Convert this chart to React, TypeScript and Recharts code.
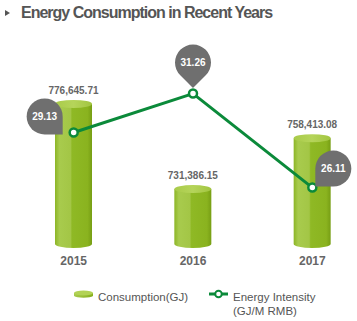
import { ComposedChart, Bar, Line, XAxis, YAxis, LabelList } from 'recharts'

const years = ['2015', '2016', '2017']
const consumption = [776645.71, 731386.15, 758413.08]
const intensity = [29.13, 31.26, 26.11]

const data = years.map((year, i) => ({
  year,
  consumption: consumption[i],
  intensity: intensity[i],
}))

const GREEN = '#0b8a3a'
const TEXT = '#666'
const FONT = '"Liberation Sans", Arial, sans-serif'

// balloon centre relative to its point, and the direction its tail points
const bubbleOffsets = [
  { dx: -29, dy: -16, angle: 45 },
  { dx: 0, dy: -31, angle: 90 },
  { dx: 21, dy: -19, angle: 135 },
]

function Cylinder(props: any) {
  const { x, y, width, height } = props
  if (!height) return null
  const rx = width / 2
  const ry = 4
  const bottom = y + height - ry
  return (
    <g>
      <path
        d={`M${x},${y} L${x},${bottom} A${rx},${ry} 0 0 0 ${x + width},${bottom} L${x + width},${y} Z`}
        fill="url(#cylBody)"
      />
      <ellipse cx={x + rx} cy={y} rx={rx} ry={ry} fill="url(#cylTop)" />
    </g>
  )
}

function Dot(props: any) {
  const { cx, cy } = props
  return <circle cx={cx} cy={cy} r={4} fill="#fff" stroke={GREEN} strokeWidth={2.5} />
}

function Bubble(props: any) {
  const px = props.x ?? props.viewBox?.x
  const py = props.y ?? props.viewBox?.y
  let i = props.index
  if (i == null) i = intensity.indexOf(Number(props.value))
  const o = bubbleOffsets[i]
  if (!o || px == null) return null
  const r = 18
  const cx = px + o.dx
  const cy = py + o.dy
  const a = (o.angle * Math.PI) / 180
  const q = Math.PI / 4
  const tip = [cx + r * Math.SQRT2 * Math.cos(a), cy + r * Math.SQRT2 * Math.sin(a)]
  const b1 = [cx + r * Math.cos(a - q), cy + r * Math.sin(a - q)]
  const b2 = [cx + r * Math.cos(a + q), cy + r * Math.sin(a + q)]
  return (
    <g>
      <path
        d={`M${b2[0]},${b2[1]} L${tip[0]},${tip[1]} L${b1[0]},${b1[1]} A${r},${r} 0 1 0 ${b2[0]},${b2[1]} Z`}
        fill="#6f6f6f"
      />
      <text
        x={cx}
        y={cy}
        textAnchor="middle"
        dominantBaseline="central"
        fill="#fff"
        fontSize={10}
        fontWeight="bold"
        fontFamily={FONT}
      >
        {props.value}
      </text>
    </g>
  )
}

export default function App() {
  return (
    <div
      style={{
        position: 'absolute',
        left: 0,
        top: 0,
        width: 357,
        height: 321,
        overflow: 'hidden',
        background: '#fff',
        fontFamily: FONT,
      }}
    >
      <svg width={12} height={12} style={{ position: 'absolute', left: 3, top: 7 }}>
        <polygon points="2,3 7,6 2,9" fill="#555" />
      </svg>
      <div
        style={{
          position: 'absolute',
          left: 21,
          top: 5,
          fontSize: 16,
          lineHeight: '16px',
          fontWeight: 'bold',
          letterSpacing: -1,
          color: '#555',
          whiteSpace: 'nowrap',
        }}
      >
        Energy Consumption in Recent Years
      </div>

      <ComposedChart
        width={372}
        height={321}
        data={data}
        margin={{ top: 60, right: 0, left: 14, bottom: 43 }}
      >
        <defs>
          <linearGradient id="cylBody" x1="0" y1="0" x2="1" y2="0">
            <stop offset="0%" stopColor="#8cb526" />
            <stop offset="12%" stopColor="#a8cb4d" />
            <stop offset="42%" stopColor="#a3c646" />
            <stop offset="46%" stopColor="#8fb925" />
            <stop offset="88%" stopColor="#8ab31f" />
            <stop offset="100%" stopColor="#779e14" />
          </linearGradient>
          <linearGradient id="cylTop" x1="0" y1="0" x2="1" y2="0">
            <stop offset="0%" stopColor="#a9cb4a" />
            <stop offset="50%" stopColor="#b5d45a" />
            <stop offset="100%" stopColor="#a2c540" />
          </linearGradient>
        </defs>
        <XAxis
          dataKey="year"
          axisLine={false}
          tickLine={false}
          height={30}
          tick={{ fill: TEXT, fontSize: 12, fontWeight: 'bold', fontFamily: FONT }}
        />
        <YAxis yAxisId="left" hide domain={[700000, 800000]} />
        <YAxis yAxisId="right" orientation="right" hide domain={[22.8, 33.1]} />
        <Bar
          yAxisId="left"
          dataKey="consumption"
          barSize={37}
          shape={<Cylinder />}
          isAnimationActive={false}
        >
          <LabelList
            dataKey="consumption"
            position="top"
            offset={10}
            fill={TEXT}
            fontSize={10}
            fontWeight="bold"
            fontFamily={FONT}
            formatter={(v: any) =>
              Number(v).toLocaleString('en-US', { minimumFractionDigits: 2, maximumFractionDigits: 2 })
            }
          />
        </Bar>
        <Line
          yAxisId="right"
          dataKey="intensity"
          stroke={GREEN}
          strokeWidth={3}
          dot={<Dot />}
          activeDot={false}
          isAnimationActive={false}
        >
          <LabelList dataKey="intensity" content={<Bubble />} />
        </Line>
      </ComposedChart>

      <svg width={22} height={10} style={{ position: 'absolute', left: 73, top: 290 }}>
        <path d="M1,3 L1,6 A10,2.5 0 0 0 20,6 L20,3 Z" fill="url(#legendBody)" />
        <defs>
          <linearGradient id="legendBody" x1="0" y1="0" x2="1" y2="0">
            <stop offset="0%" stopColor="#a8cb4d" />
            <stop offset="100%" stopColor="#86af1c" />
          </linearGradient>
        </defs>
        <ellipse cx={10.5} cy={3} rx={9.5} ry={2.5} fill="#b2d255" />
      </svg>
      <div style={{ position: 'absolute', left: 98, top: 290, fontSize: 11.5, lineHeight: '14px', color: '#555' }}>
        Consumption(GJ)
      </div>

      <svg width={22} height={10} style={{ position: 'absolute', left: 208, top: 289 }}>
        <line x1={1} y1={5} x2={20} y2={5} stroke={GREEN} strokeWidth={3} />
        <circle cx={10.5} cy={5} r={3.3} fill="#fff" stroke={GREEN} strokeWidth={2} />
      </svg>
      <div style={{ position: 'absolute', left: 233, top: 290, fontSize: 11.5, lineHeight: '14px', color: '#555' }}>
        Energy Intensity
        <br />
        (GJ/M RMB)
      </div>
    </div>
  )
}
